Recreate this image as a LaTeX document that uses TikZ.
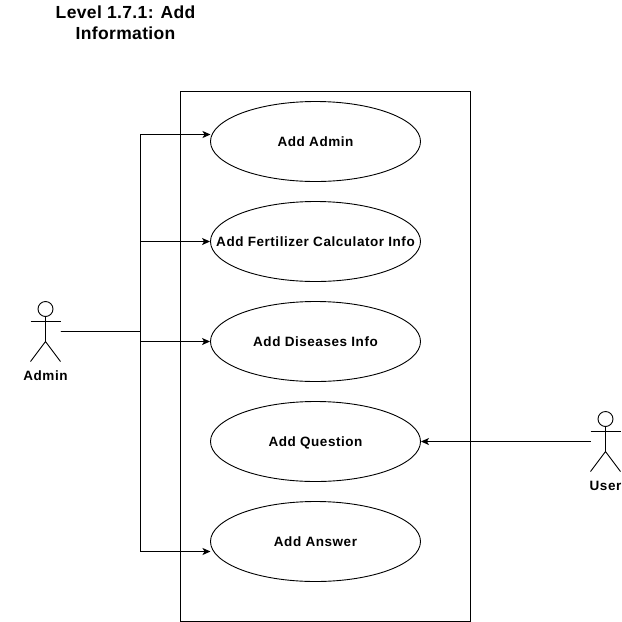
\documentclass[tikz,border=0pt]{standalone}
\usepackage{fontspec}
\setmainfont{Liberation Sans}
\newfontfamily\ucfont[LetterSpace=4]{Liberation Sans}
\newfontfamily\ttlfont[LetterSpace=2]{Liberation Sans}
\usetikzlibrary{shapes.geometric,arrows.meta}
\newcommand{\uctext}[1]{\makebox[0pt]{\smash{\raisebox{-4.8pt}{#1}}}}
\tikzset{
  usecase/.style={draw=black,ellipse,minimum width=210pt,minimum height=80pt,inner sep=0pt,line width=0.9pt,font=\ucfont\bfseries\fontsize{13.5}{15}\selectfont},
  actorbox/.style={minimum width=30pt,minimum height=60pt,inner sep=0pt,outer sep=0pt},
  actorlabel/.style={font=\ucfont\bfseries\fontsize{13.5}{15}\selectfont,inner sep=0pt},
  conn/.style={draw=black,line width=1pt},
  arrowconn/.style={conn,-{Stealth[length=8pt,width=7pt,inset=2pt]}},
  stick/.style={draw=black,line width=0.9pt}
}
\begin{document}
\begin{tikzpicture}[x=1pt,y=-1pt]
\useasboundingbox (0,0) rectangle (622,622);
\node[draw=black,line width=1pt,minimum width=290pt,minimum height=530pt,inner sep=0pt] (sys) at (325.5,356.5) {};
\node[usecase] (u1) at (315.5,141.5) {\uctext{Add Admin}};
\node[usecase] (u2) at (315.5,241.5) {\uctext{Add Fertilizer Calculator Info}};
\node[usecase] (u3) at (315.5,341.5) {\uctext{Add Diseases Info}};
\node[usecase] (u4) at (315.5,441.5) {\uctext{Add Question}};
\node[usecase] (u5) at (315.5,541.5) {\uctext{Add Answer}};
\node[font=\ttlfont\bfseries\fontsize{17.5}{21}\selectfont,align=center,inner sep=0pt] (title) at (125.5,22.5) {Level 1.7.1: Add\\Information};
\node[actorbox] (admin) at (45.5,331.5) {};
\node[actorbox] (user) at (605.5,441.5) {};
\node[actorlabel] (adminl) at (45.5,376) {Admin};
\node[actorlabel] (userl) at (605.5,486) {User};
\foreach \a in {admin,user}{
  \draw[stick] ([yshift=-7.5pt]\a.north) circle[radius=7.5pt];
  \draw[stick] ([yshift=-15pt]\a.north) -- ([yshift=-10pt]\a.center);
  \draw[stick] ([yshift=10pt]\a.west) -- ([yshift=10pt]\a.east);
  \draw[stick] (\a.south west) -- ([yshift=-10pt]\a.center) -- (\a.south east);
}
\coordinate (j) at (140.5,331.5);
\coordinate (t1) at (210.5,134.5);
\coordinate (t5) at (210.5,551.5);
\draw[arrowconn] (admin.east) -- (j) |- (t1);
\draw[arrowconn] (admin.east) -- (j) |- (u2.west);
\draw[arrowconn] (admin.east) -- (j) |- (u3.west);
\draw[arrowconn] (admin.east) -- (j) |- (t5);
\draw[arrowconn] (user.west) -- (u4.east);
\end{tikzpicture}
\end{document}
